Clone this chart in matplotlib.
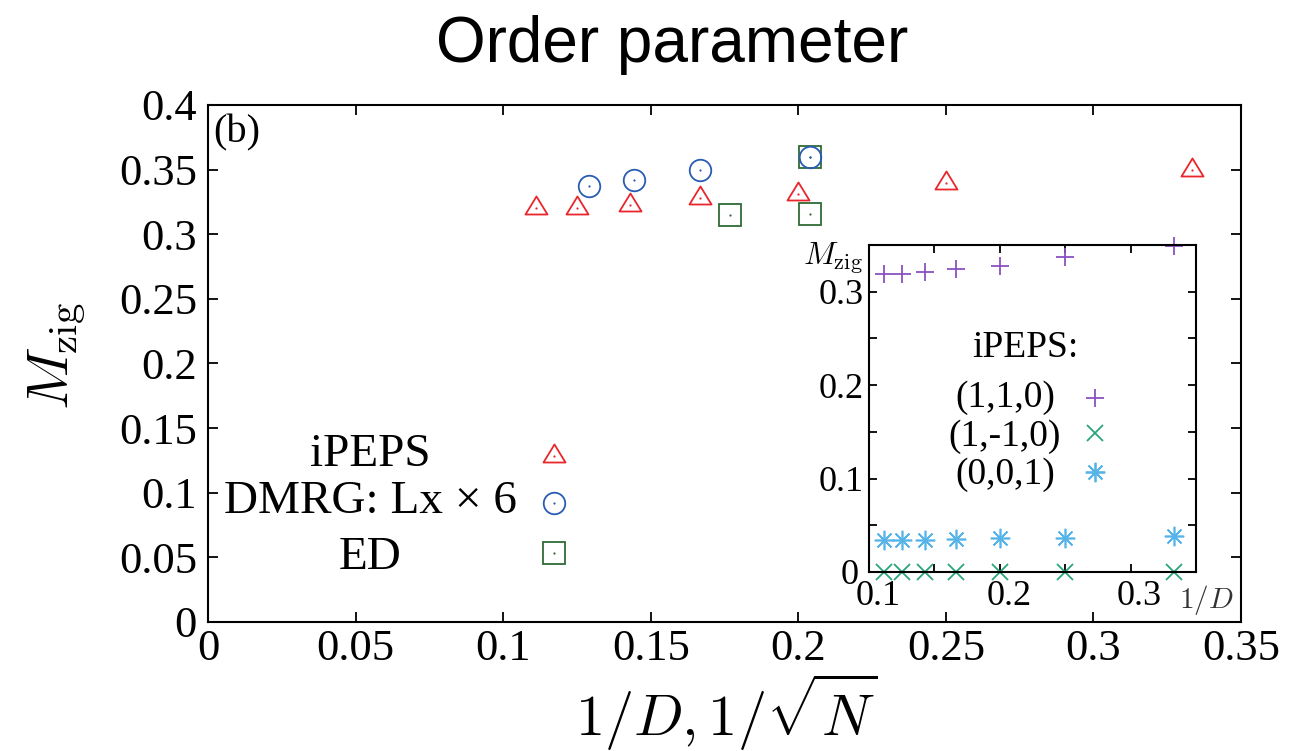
import numpy as np
import matplotlib
matplotlib.use("Agg")
import matplotlib.pyplot as plt
import matplotlib.transforms as mtransforms
from matplotlib.path import Path
from matplotlib.ticker import FixedLocator, FuncFormatter

plt.rcParams["font.family"] = ["Liberation Serif", "DejaVu Serif"]
plt.rcParams["mathtext.fontset"] = "cm"

# iPEPS: ordered moment vs 1/D (D = 9 ... 3)
ipeps_x = [0.1111, 0.1250, 0.1429, 0.1667, 0.2000, 0.2500, 0.3333]
ipeps_m = [0.320, 0.320, 0.323, 0.328, 0.331, 0.340, 0.350]

# DMRG on Lx x 6 cylinders vs 1/sqrt(N)
dmrg_x = [0.1291, 0.1443, 0.1667, 0.2041]
dmrg_m = [0.337, 0.342, 0.350, 0.360]

# ED clusters vs 1/sqrt(N)
ed_x = [0.1768, 0.2041, 0.2041]
ed_m = [0.315, 0.316, 0.360]

# iPEPS moment components along (1,1,0), (1,-1,0), (0,0,1)
comp_x = [0.1111, 0.1250, 0.1429, 0.1667, 0.2000, 0.2500, 0.3333]
m_110 = [0.319, 0.319, 0.321, 0.324, 0.328, 0.337, 0.349]
m_1m10 = [0.0, 0.0, 0.0, 0.0, 0.0, 0.0, 0.0]
m_001 = [0.034, 0.034, 0.034, 0.035, 0.036, 0.036, 0.038]

main_xticks = [0, 0.05, 0.1, 0.15, 0.2, 0.25, 0.3, 0.35]
main_yticks = [0, 0.05, 0.1, 0.15, 0.2, 0.25, 0.3, 0.35, 0.4]
inset_xticks = [0.1, 0.15, 0.2, 0.25, 0.3, 0.35]
inset_xlabels = ["0.1", "", "0.2", "", "0.3", ""]
inset_yticks = [0, 0.05, 0.1, 0.15, 0.2, 0.25, 0.3, 0.35]
inset_ylabels = ["0", "", "0.1", "", "0.2", "", "0.3", ""]

RED = "#e8262b"
BLUE = "#2a5cb5"
DKGREEN = "#2f6a36"
PURPLE = "#8a52c0"
TEAL = "#2aa57a"
SKY = "#56b4e9"

# open triangle whose centroid sits on the data point
tri = Path([(0, 1.09), (-1, -0.545), (1, -0.545), (0, 1.09)],
           [Path.MOVETO, Path.LINETO, Path.LINETO, Path.CLOSEPOLY])
star = (8, 2, 0)

fig = plt.figure(figsize=(13.05, 7.51), dpi=100)
ax = fig.add_axes([0.1594, 0.1718, 0.7916, 0.6884])

ax.set_xlim(0, 0.35)
ax.set_ylim(0, 0.4)
ax.xaxis.set_major_locator(FixedLocator(main_xticks))
ax.yaxis.set_major_locator(FixedLocator(main_yticks))
fmt = FuncFormatter(lambda v, p: f"{round(v, 3):g}")
ax.xaxis.set_major_formatter(fmt)
ax.yaxis.set_major_formatter(fmt)
ax.tick_params(direction="in", length=7, width=1.3, top=True, right=True,
               labelsize=32)
ax.tick_params(axis="x", pad=5)
ax.tick_params(axis="y", pad=8)
for s in ax.spines.values():
    s.set_linewidth(1.5)


def open_marks(axis, x, y, marker, ms, color, **kw):
    axis.plot(x, y, ls="none", marker=marker, ms=ms, mfc="none", mec=color,
              mew=1.3, clip_on=False, **kw)
    axis.plot(x, y, ls="none", marker="o", ms=1.6, mfc=color, mew=0,
              clip_on=False, **kw)


open_marks(ax, ipeps_x, ipeps_m, tri, 17.3, RED)
open_marks(ax, ed_x, ed_m, "s", 16, DKGREEN)
open_marks(ax, dmrg_x, dmrg_m, "o", 15.5, BLUE)

# key
key_rows = [("iPEPS", tri, 17.3, RED, 0.323, 0.321),
            ("DMRG: Lx \u00d7 6", "o", 15.5, BLUE, 0.232, 0.230),
            ("ED", "s", 16, DKGREEN, 0.124, 0.133)]
for label, mk, ms, col, ty, my in key_rows:
    ax.text(0.157, ty, label, transform=ax.transAxes, ha="center",
            va="center", fontsize=34)
    open_marks(ax, [0.335], [my], mk, ms, col, transform=ax.transAxes)

ax.text(0.005, 0.982, "(b)", transform=ax.transAxes, ha="left", va="top",
        fontsize=29)

ax.text(0.502, -0.174, r"$1/D, 1/\sqrt{N}$", transform=ax.transAxes,
        ha="center", va="center", fontsize=42)
ax.text(-0.146, 0.514, r"$M_{\rm zig}$", transform=ax.transAxes,
        ha="center", va="center", rotation=90, fontsize=42)

fig.text(0.515, 0.94, "Order parameter", ha="center", va="center",
         fontsize=46, family="Liberation Sans")

# inset: components of the iPEPS moment
ins = fig.add_axes([0.6659, 0.2384, 0.2506, 0.4354])
ins.set_facecolor("white")
ins.set_xlim(0.1, 0.35)
ins.set_ylim(0, 0.35)
ins.xaxis.set_major_locator(FixedLocator(inset_xticks))
ins.set_xticklabels(inset_xlabels)
ins.yaxis.set_major_locator(FixedLocator(inset_yticks))
ins.set_yticklabels(inset_ylabels)
ins.tick_params(direction="in", length=6, width=1.3, top=True, right=True,
                labelsize=26)
ins.tick_params(axis="x", pad=6)
ins.tick_params(axis="y", pad=4)
for s in ins.spines.values():
    s.set_linewidth(1.5)

# keep the corner labels of the inset apart
xshift = mtransforms.ScaledTranslation(9 / 100, 0, fig.dpi_scale_trans)
for lbl in ins.get_xticklabels():
    lbl.set_transform(lbl.get_transform() + xshift)
yshift = mtransforms.ScaledTranslation(-5 / 100, 0, fig.dpi_scale_trans)
zero_lbl = ins.get_yticklabels()[0]
zero_lbl.set_transform(zero_lbl.get_transform() + yshift)

ins.plot(comp_x, m_110, ls="none", marker="+", ms=12.5, mew=1.3,
         color=PURPLE, clip_on=False)
ins.plot(comp_x, m_1m10, ls="none", marker="x", ms=12, mew=1.3,
         color=TEAL, clip_on=False)
ins.plot(comp_x, m_001, ls="none", marker=star, ms=14, mew=1.2,
         color=SKY, clip_on=False)

ins.text(0.477, 0.685, "iPEPS:", transform=ins.transAxes, ha="center",
         va="center", fontsize=27)
inset_key = [("(1,1,0)", "+", 12.5, PURPLE, 0.532, 0.532),
             ("(1,-1,0)", "x", 12, TEAL, 0.413, 0.425),
             ("(0,0,1)", star, 14, SKY, 0.297, 0.306)]
for label, mk, ms, col, ty, my in inset_key:
    ins.text(0.416, ty, label, transform=ins.transAxes, ha="center",
             va="center", fontsize=27)
    ins.plot([0.691], [my], ls="none", marker=mk, ms=ms, mew=1.3, color=col,
             transform=ins.transAxes, clip_on=False)

ins.text(-0.11, 0.958, r"$M_{\rm zig}$", transform=ins.transAxes,
         ha="center", va="center", fontsize=23)
ins.text(1.03, -0.085, r"$1/D$", transform=ins.transAxes, ha="center",
         va="center", fontsize=21, color="#333333")

fig.savefig("out.png", dpi=100)
